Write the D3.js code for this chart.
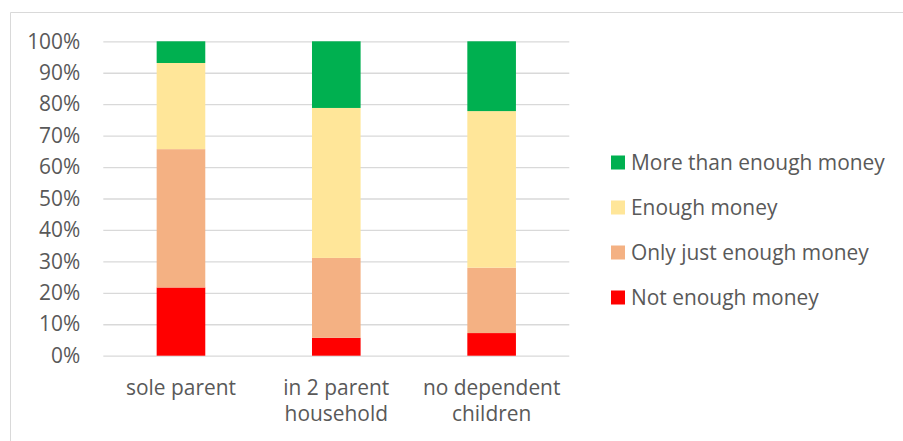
<!DOCTYPE html>
<html>
<head>
<meta charset="utf-8">
<script src="https://cdn.jsdelivr.net/npm/d3@7"></script>
<style>
  html, body { margin: 0; padding: 0; background: #fff; }
  svg { display: block; }
  text { font-family: "Open Sans", sans-serif; fill: #595959; }
</style>
</head>
<body>
<svg id="chart" width="903" height="441"></svg>
<script>
// Household groups (x axis); "\n" splits a label over two lines
const categories = ["sole parent", "in 2 parent\nhousehold", "no dependent\nchildren"];

// Series, stacked bottom to top (percent of each group)
const seriesNames = ["Not enough money", "Only just enough money", "Enough money", "More than enough money"];
const notEnough      = [21.7, 5.7, 7.2];
const onlyJustEnough = [44.0, 25.4, 20.8];
const enough         = [27.4, 47.7, 49.8];
const moreThanEnough = [6.9, 21.2, 22.2];
const seriesColors = ["#FF0000", "#F4B183", "#FFE699", "#00B050"];

// Y axis ticks
const yTicks = [0, 10, 20, 30, 40, 50, 60, 70, 80, 90, 100];

const seriesValues = [notEnough, onlyJustEnough, enough, moreThanEnough];
const rows = categories.map((c, i) => {
  const r = { category: c };
  seriesNames.forEach((s, k) => { r[s] = seriesValues[k][i]; });
  return r;
});
const stacked = d3.stack().keys(seriesNames)(rows);

const svg = d3.select("#chart");
const plot = { left: 103.3, right: 569.3, top: 41.3, bottom: 355.7 };

// pick a font size so the longest legend entry spans ~254px
const probe = svg.append("text").style("font-size", "18px").text(seriesNames[3]);
const fontSize = 18 * 254 / probe.node().getComputedTextLength();
probe.remove();
const fs = fontSize + "px";

// chart frame
svg.append("path")
  .attr("d", "M10.5,460 V12.5 H920")
  .attr("fill", "none")
  .attr("stroke", "#D9D9D9")
  .attr("stroke-width", 1);

const x = d3.scaleBand().domain(categories).range([plot.left, plot.right])
  .paddingInner(0.687).paddingOuter(0.3435);
const y = d3.scaleLinear().domain([0, 100]).range([plot.bottom, plot.top]);

// gridlines and tick labels
const yAxis = d3.axisLeft(y).tickValues(yTicks).tickFormat(d => d + "%")
  .tickSize(-(plot.right - plot.left)).tickPadding(23);
const gy = svg.append("g").attr("transform", `translate(${plot.left},0)`).call(yAxis);
gy.select(".domain").remove();
gy.selectAll(".tick line").attr("stroke", "#D9D9D9").attr("stroke-width", 1.3);
gy.selectAll(".tick text").attr("fill", "#595959").style("font-size", fs)
  .style("font-family", "'Open Sans', sans-serif");

// stacked bars
svg.append("g").selectAll("g").data(stacked).join("g")
  .attr("fill", (d, i) => seriesColors[i])
  .selectAll("rect").data(d => d).join("rect")
  .attr("x", d => x(d.data.category))
  .attr("width", x.bandwidth())
  .attr("y", d => y(d[1]))
  .attr("height", d => y(d[0]) - y(d[1]));

// category labels
const xl = svg.append("g").selectAll("text").data(categories).join("text")
  .attr("text-anchor", "middle")
  .style("font-size", fs)
  .attr("x", d => x(d) + x.bandwidth() / 2)
  .attr("y", 395);
xl.selectAll("tspan").data(d => d.split("\n")).join("tspan")
  .attr("x", function () { return d3.select(this.parentNode).attr("x"); })
  .attr("dy", (d, i) => i === 0 ? 0 : 26)
  .text(d => d);

// legend, top entry = top of stack
const legendOrder = seriesNames.map((s, i) => i).reverse();
const lg = svg.append("g").selectAll("g").data(legendOrder).join("g")
  .attr("transform", (d, i) => `translate(611,${162.5 + i * 45})`);
lg.append("rect").attr("x", 0).attr("y", -7).attr("width", 14).attr("height", 14)
  .attr("fill", d => seriesColors[d]);
lg.append("text").attr("x", 20).attr("y", 0).attr("dy", "0.35em")
  .style("font-size", fs)
  .text(d => seriesNames[d]);
</script>
</body>
</html>
